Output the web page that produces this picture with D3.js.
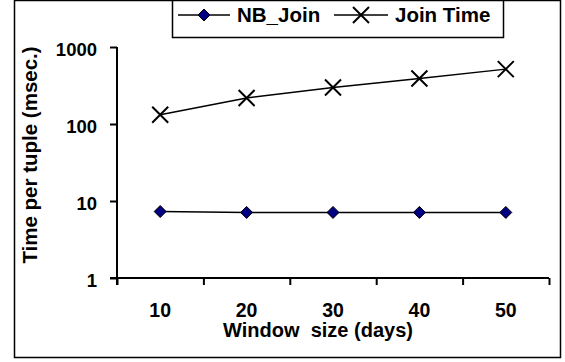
<!DOCTYPE html>
<html>
<head>
<meta charset="utf-8">
<script src="https://cdn.jsdelivr.net/npm/d3@7"></script>
<style>
  body { margin: 0; background: #fff; }
  svg { display: block; font-family: Arial, "Liberation Sans", sans-serif; font-weight: bold; }
</style>
</head>
<body>
<svg id="chart" width="565" height="362"></svg>
<script>
  // window sizes (days) and time per tuple (msec.)
  var windowSizes = [10, 20, 30, 40, 50];
  var nbJoin = [7.3, 7.1, 7.1, 7.1, 7.1];
  var joinTime = [132, 218, 298, 390, 516];
  var yTicks = [1, 10, 100, 1000];
  var seriesNames = ['NB_Join', 'Join Time'];

(function () {
  var svg = d3.select('#chart');
  var left = 117, right = 549, plotTop = 47, bottom = 278;

  // outer frame
  svg.append('rect')
    .attr('x', 14.5).attr('y', 0.5)
    .attr('width', 546).attr('height', 357)
    .attr('fill', 'none').attr('stroke', '#000').attr('stroke-width', 1.5);

  var x = d3.scaleBand().domain(windowSizes).range([left, right]).padding(0);
  var xEdges = d3.scaleLinear().domain([0, windowSizes.length]).range([left, right]);
  var y = d3.scaleLog().domain([1, 1000]).range([bottom, plotTop]);

  // y axis
  var yAxis = svg.append('g')
    .attr('transform', 'translate(' + left + ',0)')
    .call(d3.axisLeft(y).tickValues(yTicks).tickSize(7).tickPadding(13)
      .tickFormat(d3.format('d')));
  yAxis.select('.domain').remove();
  yAxis.append('line')
    .attr('x1', 0).attr('x2', 0).attr('y1', plotTop).attr('y2', bottom + 7)
    .attr('stroke', '#000').attr('stroke-width', 2);
  yAxis.selectAll('.tick line').attr('stroke-width', 2);
  yAxis.selectAll('.tick text')
    .attr('fill', '#000').attr('font-size', 18.5).attr('font-family', null)
    .attr('dy', '0.45em');

  // x axis: boundary ticks
  var xAxis = svg.append('g')
    .attr('transform', 'translate(0,' + bottom + ')')
    .call(d3.axisBottom(xEdges).ticks(windowSizes.length).tickSize(7).tickFormat(''));
  xAxis.select('.domain').remove();
  xAxis.append('line')
    .attr('x1', left - 7).attr('x2', right).attr('y1', 0).attr('y2', 0)
    .attr('stroke', '#000').attr('stroke-width', 2);
  xAxis.selectAll('.tick line').attr('stroke-width', 2);

  // x axis: category labels
  var xLabels = svg.append('g')
    .attr('transform', 'translate(0,' + bottom + ')')
    .call(d3.axisBottom(x).tickSize(0).tickPadding(25));
  xLabels.select('.domain').remove();
  xLabels.selectAll('.tick text')
    .attr('fill', '#000').attr('font-size', 19.5).attr('font-family', null)
    .attr('dy', 0).attr('y', 39);

  // axis titles
  svg.append('text')
    .attr('x', 318).attr('y', 337)
    .attr('text-anchor', 'middle').attr('font-size', 20)
    .attr('xml:space', 'preserve')
    .text('Window  size (days)');

  svg.append('text')
    .attr('transform', 'translate(37,155) rotate(-90)')
    .attr('text-anchor', 'middle').attr('font-size', 20.5)
    .text('Time per tuple (msec.)');

  var line = d3.line()
    .x(function (d, i) { return x(windowSizes[i]) + x.bandwidth() / 2; })
    .y(function (d) { return y(d); });

  var diamond = 'M0,-6L6,0L0,6L-6,0Z';
  var cross = 'M-8,-8L8,8M-8,8L8,-8';

  // NB_Join
  svg.append('path').datum(nbJoin)
    .attr('d', line).attr('fill', 'none').attr('stroke', '#000').attr('stroke-width', 1.5);
  svg.selectAll('.nb').data(nbJoin).enter().append('path')
    .attr('class', 'nb')
    .attr('transform', function (d, i) {
      return 'translate(' + (x(windowSizes[i]) + x.bandwidth() / 2) + ',' + y(d) + ')';
    })
    .attr('d', diamond).attr('fill', '#000080').attr('stroke', '#000').attr('stroke-width', 1);

  // Join Time
  svg.append('path').datum(joinTime)
    .attr('d', line).attr('fill', 'none').attr('stroke', '#000').attr('stroke-width', 1.5);
  svg.selectAll('.jt').data(joinTime).enter().append('path')
    .attr('class', 'jt')
    .attr('transform', function (d, i) {
      return 'translate(' + (x(windowSizes[i]) + x.bandwidth() / 2) + ',' + y(d) + ')';
    })
    .attr('d', cross).attr('fill', 'none').attr('stroke', '#000').attr('stroke-width', 2);

  // legend
  var legend = svg.append('g');
  legend.append('rect')
    .attr('x', 172.5).attr('y', 0.5).attr('width', 331).attr('height', 37)
    .attr('fill', '#fff').attr('stroke', '#000').attr('stroke-width', 1.5);
  var items = [
    { name: seriesNames[0], x0: 178, x1: 230, text: 237, mark: diamond, fill: '#000080', sw: 1 },
    { name: seriesNames[1], x0: 334, x1: 388, text: 395, mark: cross, fill: 'none', sw: 2 }
  ];
  items.forEach(function (it) {
    legend.append('line')
      .attr('x1', it.x0).attr('x2', it.x1).attr('y1', 15).attr('y2', 15)
      .attr('stroke', '#000').attr('stroke-width', 1.5);
    legend.append('path')
      .attr('transform', 'translate(' + (it.x0 + it.x1) / 2 + ',15)')
      .attr('d', it.mark).attr('fill', it.fill).attr('stroke', '#000').attr('stroke-width', it.sw);
    legend.append('text')
      .attr('x', it.text).attr('y', 22).attr('font-size', 20.5)
      .text(it.name);
  });
})();
</script>
</body>
</html>
